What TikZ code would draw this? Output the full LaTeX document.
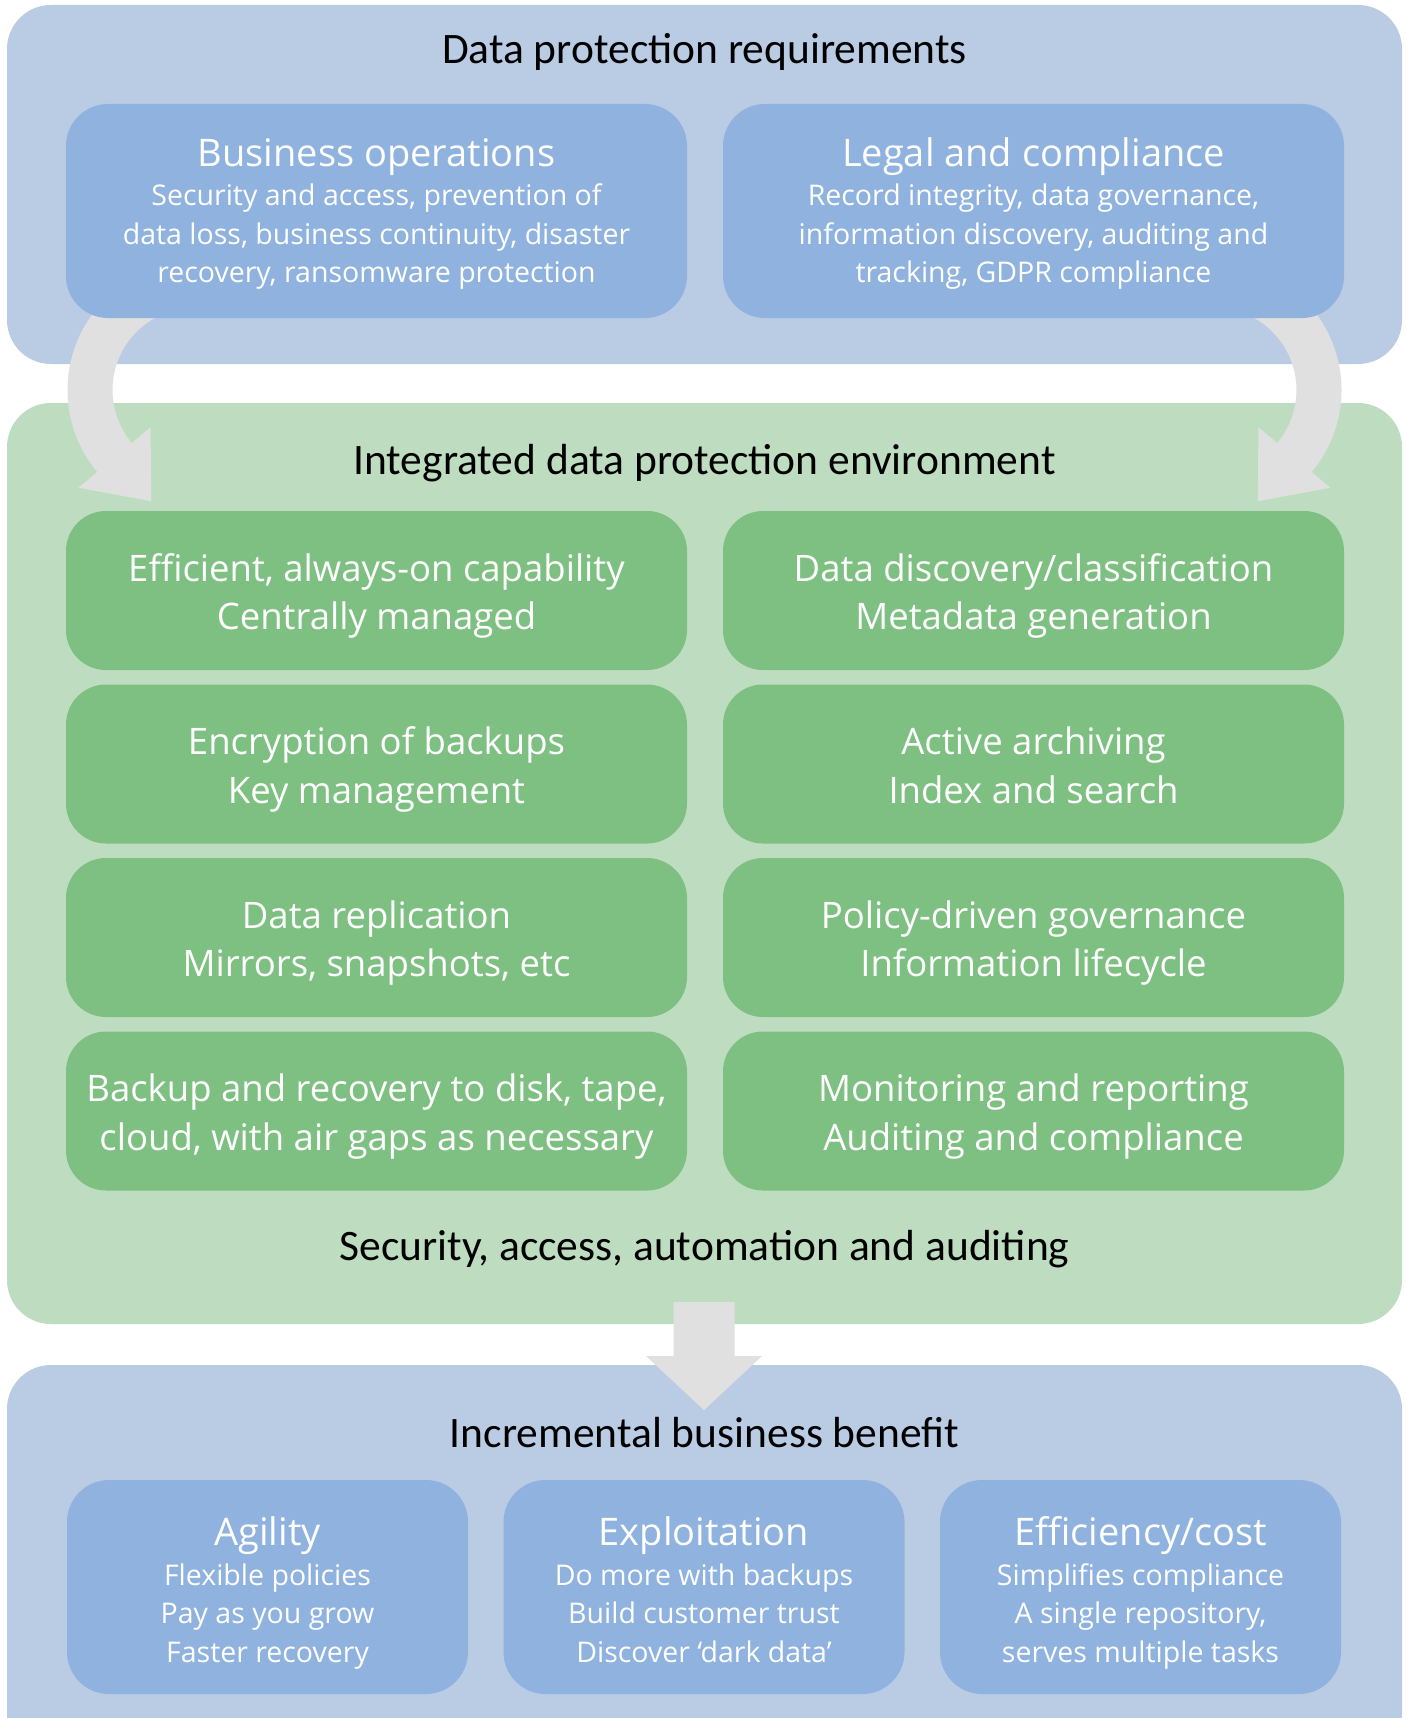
\documentclass[tikz,border=0pt]{standalone}
\usepackage{fontspec}
\setmainfont{Carlito}
\newfontfamily\cardfont{Open Sans}

\definecolor{panelblue}{HTML}{BACCE4}
\definecolor{cardblue}{HTML}{8FB2DF}
\definecolor{panelgreen}{HTML}{BEDDC0}
\definecolor{cardgreen}{HTML}{7EBF82}
\definecolor{arrowgray}{HTML}{E0E0E0}

% zero-width strut that fixes the height of a first line
\newcommand\firststrut[1]{\rule{0pt}{#1}}

\tikzset{
  panel/.style={rectangle, rounded corners=44pt, inner sep=0pt, minimum width=1395pt},
  bluecard/.style={rectangle, rounded corners=42pt, fill=cardblue, inner sep=0pt},
  greencard/.style={rectangle, rounded corners=40pt, fill=cardgreen, inner sep=0pt,
    minimum width=621pt, minimum height=159pt},
  heading/.style={anchor=base, inner sep=0pt, text=black, font=\fontsize{43.5}{50}\selectfont},
  cardtitle/.style={anchor=base, inner sep=0pt, text=white, font=\cardfont\fontsize{38}{44}\selectfont},
  cardbody/.style={anchor=north, inner sep=0pt, align=center, text=white,
    font=\cardfont\fontsize{28.5}{38.5}\selectfont},
  greentext/.style={anchor=north, inner sep=0pt, align=center, text=white,
    font=\cardfont\fontsize{36.5}{48.3}\selectfont},
  bendarrow/.pic={
    \fill[arrowgray] (250:127.5) arc[start angle=250, end angle=140, radius=127.5]
      -- (140:152) -- (-43.8,111.2) -- (140:58) -- (140:82.5)
      arc[start angle=140, end angle=250, radius=82.5] -- cycle;
  },
}

\begin{document}
\begin{tikzpicture}[x=1pt, y=-1pt]
\useasboundingbox (0,0) rectangle (1407,1718);
\clip (0,0) rectangle (1407,1718);
\fill[white] (0,0) rectangle (1407,1718);

% three panels
\node[panel, fill=panelblue, minimum height=359pt] (req) at (704.5,184.5) {};
\node[panel, fill=panelgreen, minimum height=921pt] (env) at (704.5,863.5) {};
\node[panel, fill=panelblue, minimum height=395pt] (ben) at (704.5,1562.5) {};

% curved arrows from the requirements into the environment
\pic (leftbend) at (195,390) {bendarrow};
\pic[xscale=-1] (rightbend) at (1214,390) {bendarrow};

% requirement cards
\node[bluecard, minimum width=621pt, minimum height=214pt] (bizop) at (376.5,211) {};
\node[bluecard, minimum width=621pt, minimum height=214pt] (legal) at (1033.5,211) {};

% environment cards
\node[greencard] (g11) at (376.5,590.5) {};
\node[greencard] (g12) at (1033.5,590.5) {};
\node[greencard] (g21) at (376.5,764) {};
\node[greencard] (g22) at (1033.5,764) {};
\node[greencard] (g31) at (376.5,937.5) {};
\node[greencard] (g32) at (1033.5,937.5) {};
\node[greencard] (g41) at (376.5,1111) {};
\node[greencard] (g42) at (1033.5,1111) {};

% benefit cards
\node[bluecard, minimum width=401pt, minimum height=214pt] (agil) at (267.5,1587) {};
\node[bluecard, minimum width=401pt, minimum height=214pt] (expl) at (704,1587) {};
\node[bluecard, minimum width=401pt, minimum height=214pt] (effi) at (1140.5,1587) {};

% arrow from the environment down to the benefits
\fill[arrowgray] (673.5,1302) -- (734.5,1302) -- (734.5,1356) -- (762,1356)
  -- (704,1410) -- (646,1356) -- (673.5,1356) -- cycle;

% headings
\node[heading] (reqhead) at (704.5,63.3) {Data protection requirements};
\node[heading] (envhead) at (704.5,474) {Integrated data protection environment};
\node[heading] (envfoot) at (704.5,1260) {Security, access, automation and auditing};
\node[heading] (benhead) at (704.5,1447) {Incremental business benefit};

% requirement card texts
\node[cardtitle] (bizopT) at (376.5,166.7) {Business operations};
\node[cardbody] (bizopB) at (376.5,175.5) {\firststrut{30pt}Security and access, prevention of\\
  data loss, business continuity, disaster\\ recovery, ransomware protection};
\node[cardtitle] (legalT) at (1033.5,166.7) {Legal and compliance};
\node[cardbody] (legalB) at (1033.5,175.5) {\firststrut{30pt}Record integrity, data governance,\\
  information discovery, auditing and\\ tracking, GDPR compliance};

% environment card texts
\node[greentext] (g11t) at (376.5,541) {\firststrut{40pt}Efficient, always-on capability\\ Centrally managed};
\node[greentext] (g12t) at (1033.5,541) {\firststrut{40pt}Data discovery/classification\\ Metadata generation};
\node[greentext] (g21t) at (376.5,714.5) {\firststrut{40pt}Encryption of backups\\ Key management};
\node[greentext] (g22t) at (1033.5,714.5) {\firststrut{40pt}Active archiving\\ Index and search};
\node[greentext] (g31t) at (376.5,888) {\firststrut{40pt}Data replication\\ Mirrors, snapshots, etc};
\node[greentext] (g32t) at (1033.5,888) {\firststrut{40pt}Policy-driven governance\\ Information lifecycle};
\node[greentext] (g41t) at (376.5,1061.5) {\firststrut{40pt}Backup and recovery to disk, tape,\\ cloud, with air gaps as necessary};
\node[greentext] (g42t) at (1033.5,1061.5) {\firststrut{40pt}Monitoring and reporting\\ Auditing and compliance};

% benefit card texts
\node[cardtitle] (agilT) at (267.5,1545) {Agility};
\node[cardbody] (agilB) at (267.5,1555) {\firststrut{30pt}Flexible policies\\ Pay as you grow\\ Faster recovery};
\node[cardtitle] (explT) at (704,1545) {Exploitation};
\node[cardbody] (explB) at (704,1555) {\firststrut{30pt}Do more with backups\\ Build customer trust\\ Discover ‘dark data’};
\node[cardtitle] (effiT) at (1140.5,1545) {Efficiency/cost};
\node[cardbody] (effiB) at (1140.5,1555) {\firststrut{30pt}Simplifies compliance\\ A single repository,\\ serves multiple tasks};
\end{tikzpicture}
\end{document}
